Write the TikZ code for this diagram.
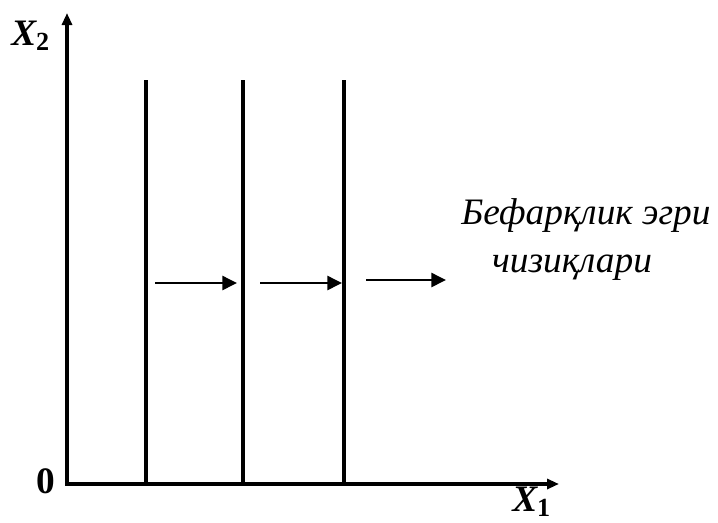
\documentclass[tikz,border=0pt]{standalone}
\usepackage{fontspec}
\setmainfont{Liberation Serif}
\usetikzlibrary{arrows.meta}
\begin{document}
\begin{tikzpicture}[x=0.75pt,y=-0.75pt,
  axis/.style={line width=2.6pt,-{Triangle[length=9pt,width=7.5pt]}},
  curve/.style={line width=2.8pt},
  movearrow/.style={line width=1.9pt,-{Triangle[length=11pt,width=10.5pt]}},
  axlab/.style={font=\fontsize{28}{31}\selectfont\bfseries, inner sep=0pt, anchor=base west},
  note/.style={font=\fontsize{28}{32}\selectfont\itshape, inner sep=0pt, anchor=base}]
\useasboundingbox (0,0) rectangle (718,522);
\coordinate (O) at (67,484);
\coordinate (Ytop) at (67,13);
\coordinate (Xend) at (559,484);
\draw[axis] ([yshift=-1.3pt]O) -- (Ytop);
\draw[axis] ([xshift=-1.3pt]O) -- (Xend);
\foreach \n/\x in {a/146,b/243,c/344}{
  \coordinate (\n top) at (\x,80);
  \coordinate (\n bot) at (\x,484);
  \draw[curve] (\n top) -- (\n bot);
}
\coordinate (s1) at (155,283); \coordinate (e1) at (237,283);
\coordinate (s2) at (260,283); \coordinate (e2) at (342,283);
\coordinate (s3) at (366,280); \coordinate (e3) at (446,280);
\draw[movearrow] (s1) -- (e1);
\draw[movearrow] (s2) -- (e2);
\draw[movearrow] (s3) -- (e3);
\node[axlab] (x2) at (11,45) {\itshape X\textsubscript{\upshape\bfseries 2}};
\node[axlab] (zero) at (36,493) {0};
\node[axlab] (x1) at (512,511) {\itshape X\textsubscript{\upshape\bfseries 1}};
\node[note] (t1) at (586,224) {Бефарқлик эгри};
\node[note] (t2) at (572,272) {чизиқлари};
\end{tikzpicture}
\end{document}
